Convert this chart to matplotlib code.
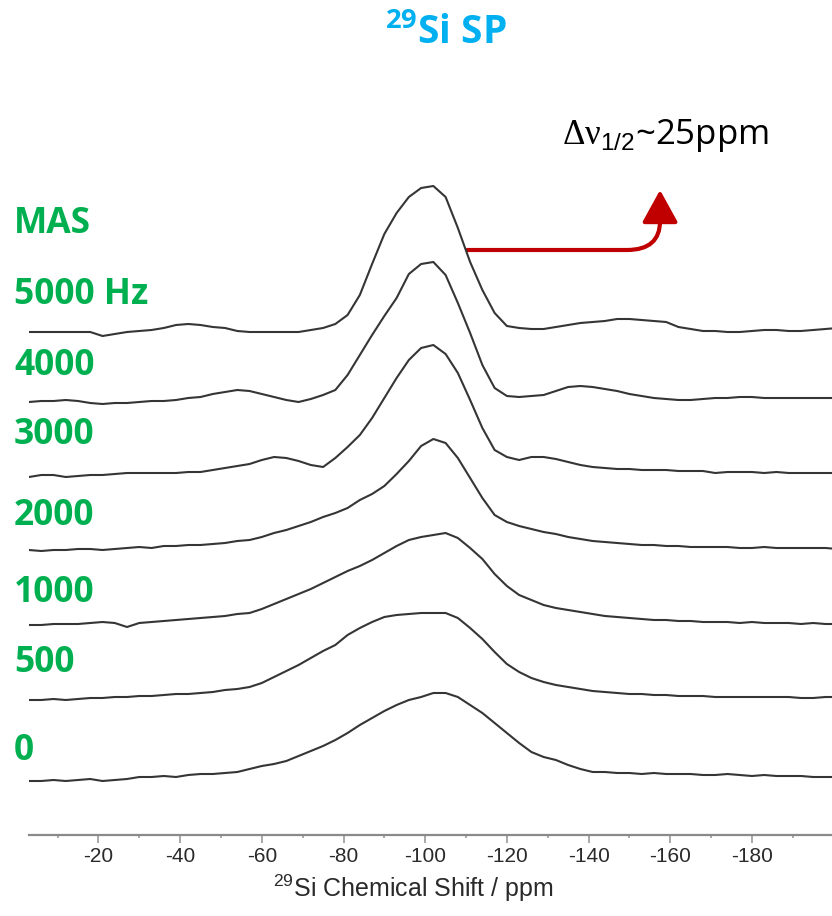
import numpy as np
import matplotlib
matplotlib.use("Agg")
import matplotlib.pyplot as plt
from matplotlib.patches import FancyArrowPatch
from matplotlib.path import Path

plt.rcParams['font.family'] = ['Liberation Sans', 'DejaVu Sans']
plt.rcParams['axes.unicode_minus'] = False
plt.rcParams['mathtext.fontset'] = 'custom'
plt.rcParams['mathtext.rm'] = 'Liberation Serif'
plt.rcParams['mathtext.sf'] = 'Liberation Sans'
plt.rcParams['mathtext.bf'] = 'Open Sans:bold'

# chemical shift grid (ppm), one sample every 3 ppm
ppm = np.arange(-3, -202, -3)

# intensities above each trace's own baseline (a.u.)
mas_5000 = [0, 0, 0, 0, 0, 0, -4, -2, 0, 1, 2, 4, 7, 8, 7, 5, 4, 1, 0, 0, 0, 0, 0, 2, 4, 8,
            17, 37, 68, 98, 119, 135, 144, 146, 135, 104, 70, 42, 19, 6, 4, 3, 3, 5, 7, 9,
            10, 11, 13, 13, 12, 11, 10, 5, 3, 1, 1, 0, 0, 1, 2, 2, 1, 1, 2, 3, 4]
mas_4000 = [0, 1, 1, 2, 1, -1, -2, -1, -1, 0, 1, 1, 2, 4, 5, 8, 10, 12, 11, 8, 5, 2, 0, 3, 7, 12,
            27, 47, 67, 86, 104, 128, 138, 140, 127, 99, 69, 37, 14, 6, 5, 6, 7, 11, 15, 16,
            15, 13, 11, 8, 6, 4, 3, 2, 2, 3, 4, 4, 5, 5, 4, 4, 4, 4, 4, 4, 4]
mas_3000 = [1, 3, 3, 1, 2, 3, 3, 4, 5, 5, 5, 5, 5, 6, 6, 8, 10, 12, 14, 18, 21, 20, 17, 13, 11, 20,
            31, 43, 60, 80, 100, 118, 130, 133, 124, 105, 78, 50, 28, 21, 18, 21, 21, 19, 16, 13,
            11, 10, 9, 9, 8, 8, 8, 7, 7, 7, 5, 6, 6, 6, 5, 6, 5, 5, 5, 5, 5]
mas_2000 = [0, -1, 0, 0, 1, 1, 0, 1, 2, 3, 2, 4, 4, 5, 5, 6, 7, 9, 10, 13, 17, 20, 24, 28, 33, 37,
            42, 50, 56, 64, 76, 89, 104, 111, 107, 92, 72, 52, 35, 28, 24, 21, 18, 16, 13, 11,
            9, 8, 7, 6, 5, 5, 4, 4, 3, 3, 3, 3, 2, 2, 3, 2, 2, 2, 2, 2, 1]
mas_1000 = [0, 0, 1, 1, 1, 2, 3, 2, -2, 2, 3, 4, 5, 6, 7, 8, 9, 11, 12, 16, 21, 26, 31, 36, 42, 48,
            54, 59, 65, 72, 79, 85, 88, 90, 92, 87, 77, 66, 51, 39, 30, 25, 20, 17, 15, 13,
            11, 9, 8, 7, 6, 5, 5, 4, 4, 3, 3, 3, 2, 3, 2, 2, 2, 1, 2, 1, 1]
mas_500 = [0, 0, 1, 0, 1, 2, 2, 3, 3, 4, 4, 5, 6, 6, 7, 8, 10, 11, 13, 17, 23, 29, 35, 42, 49, 55,
           65, 72, 78, 83, 85, 86, 87, 87, 87, 82, 72, 61, 48, 36, 28, 22, 18, 15, 13, 11,
           9, 8, 7, 6, 6, 5, 5, 4, 4, 4, 3, 3, 3, 3, 3, 3, 3, 2, 2, 3, 3]
mas_0 = [0, 0, 1, 0, 1, 2, 0, 1, 2, 4, 4, 5, 4, 6, 7, 7, 8, 9, 12, 15, 17, 20, 25, 30, 35, 41,
         48, 56, 63, 70, 76, 81, 84, 88, 88, 84, 76, 68, 58, 48, 38, 29, 24, 21, 16, 12,
         9, 9, 8, 8, 7, 8, 7, 7, 7, 6, 6, 7, 6, 5, 6, 5, 5, 5, 4, 4, 4]

spectra = [mas_5000, mas_4000, mas_3000, mas_2000, mas_1000, mas_500, mas_0]
offsets = [503, 433, 357, 285, 210, 135, 54]

labels = ["MAS", "5000 Hz", "4000", "3000", "2000", "1000", "500", "0"]
label_base = [233, 304, 375, 444, 525, 602, 672, 760]

W, H = 832, 916
fig = plt.figure(figsize=(W / 100, H / 100), dpi=100)
ax = fig.add_axes([29 / W, 81 / H, (W - 29) / W, 735 / H])

for spec, off in zip(spectra, offsets):
    ax.plot(ppm, np.array(spec) + off, color='#353535', lw=1.5, solid_joinstyle='round')

ax.set_xlim(-3, -199.6)
ax.set_ylim(0, 735)
ax.set_yticks([])
for s in ['top', 'left', 'right']:
    ax.spines[s].set_visible(False)
ax.spines['bottom'].set_color('#8a8a8a')
ax.spines['bottom'].set_linewidth(1.6)

ax.set_xticks(np.arange(-20, -181, -20))
ax.set_xticks(np.arange(-10, -200, -20), minor=True)
ax.tick_params(axis='x', which='major', length=6, width=1.2, color='#9a9a9a',
               labelsize=15, pad=3, labelcolor='#2a2a2a')
ax.tick_params(axis='x', which='minor', length=2.5, width=1.2, color='#9a9a9a')

fig.text(413 / W, 1 - 888 / H, r'$^{\mathsf{29}}$Si Chemical Shift / ppm',
         ha='center', va='center', fontsize=18, color='#2a2a2a')

# title
fig.text(446 / W, 1 - 44 / H, r'$^{\mathbf{29}}$Si SP', ha='center', va='baseline',
         fontsize=28, fontweight='bold', family='Open Sans', color='#00B0F0')

# MAS rate labels
for lab, yb in zip(labels, label_base):
    fig.text(14 / W, 1 - yb / H, lab, ha='left', va='baseline', fontsize=25.5,
             fontweight='bold', family='Open Sans', color='#00B050')

# linewidth annotation
fig.text(562 / W, 1 - 144 / H, r'$\mathrm{\Delta\nu}_{\mathsf{1/2}}$~25ppm',
         ha='left', va='baseline', fontsize=25, family='Open Sans', color='black')

verts = [(-110.3, 585), (-149.4, 585), (-157.5, 585), (-157.5, 614), (-157.5, 645)]
codes = [Path.MOVETO, Path.LINETO, Path.CURVE3, Path.CURVE3, Path.LINETO]
arrow = FancyArrowPatch(path=Path(verts, codes),
                        arrowstyle='-|>,head_length=1.0,head_width=0.55',
                        mutation_scale=20, color='#C00000', lw=3)
ax.add_patch(arrow)

fig.savefig('out.png', dpi=100)
